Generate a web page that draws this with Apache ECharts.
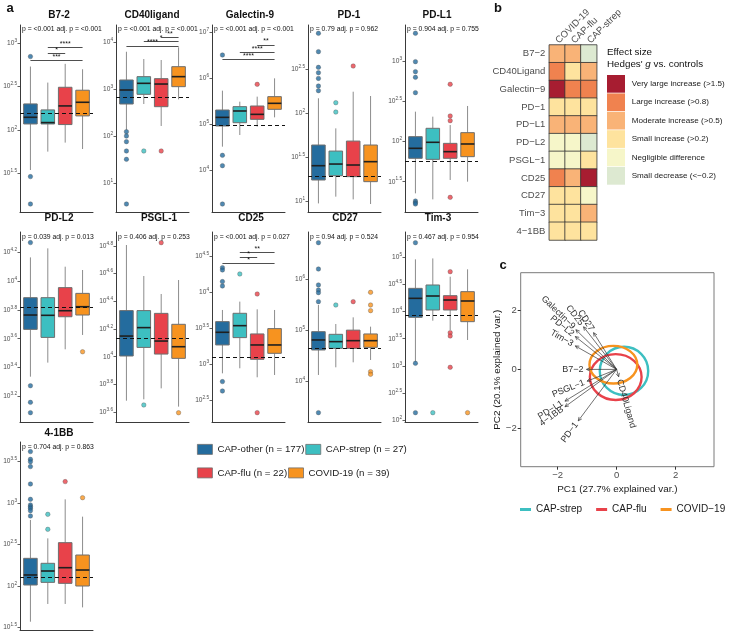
<!DOCTYPE html>
<html><head><meta charset="utf-8">
<script src="https://cdn.jsdelivr.net/npm/echarts@6/dist/echarts.min.js"></script>
<style>html,body{margin:0;padding:0;background:#fff}#c{width:731px;height:633px}</style>
</head><body><div id="c"></div>
<script>
// ---------------- DATA ----------------
const groupNames = ['CAP-other (n = 177)', 'CAP-strep (n = 27)', 'CAP-flu (n = 22)', 'COVID-19 (n = 39)'];
const markerTitles = ['B7-2', 'CD40ligand', 'Galectin-9', 'PD-1', 'PD-L1', 'PD-L2', 'PSGL-1', 'CD25', 'CD27', 'Tim-3', '4-1BB'];
const pValueTexts = [
  'p = <0.001 adj. p = <0.001', 'p = <0.001 adj. p = <0.001', 'p = <0.001 adj. p = <0.001',
  'p = 0.79 adj. p = 0.962', 'p = 0.904 adj. p = 0.755', 'p = 0.039 adj. p = 0.013',
  'p = 0.406 adj. p = 0.253', 'p = <0.001 adj. p = 0.027', 'p = 0.94 adj. p = 0.524',
  'p = 0.467 adj. p = 0.954', 'p = 0.704 adj. p = 0.863'];

// box statistics (log10 units): [lower whisker, Q1, median, Q3, upper whisker] for CAP-other, CAP-strep, CAP-flu, COVID-19
const boxB72 = [[1.538, 2.069, 2.146, 2.30, 2.731], [1.75, 2.069, 2.085, 2.231, 2.546], [1.854, 2.062, 2.277, 2.492, 2.762], [1.78, 2.162, 2.319, 2.458, 2.70]];
const boxCD40L = [[2.135, 2.688, 2.986, 3.199, 3.80], [2.688, 2.894, 3.128, 3.27, 3.645], [2.22, 2.631, 3.113, 3.227, 3.624], [2.787, 3.057, 3.27, 3.482, 3.894]];
const boxGal9 = [[4.52, 4.968, 5.156, 5.315, 5.735], [4.773, 5.04, 5.294, 5.388, 5.496], [4.954, 5.113, 5.221, 5.402, 5.605], [5.156, 5.33, 5.46, 5.605, 6.002]];
const boxPD1 = [[0.971, 1.238, 1.401, 1.637, 2.17], [1.048, 1.287, 1.42, 1.568, 1.827], [1.017, 1.276, 1.409, 1.682, 2.245], [0.964, 1.219, 1.447, 1.637, 2.196]];
const boxPDL1 = [[1.354, 1.792, 1.917, 2.0625, 2.375], [1.279, 1.779, 1.992, 2.167, 2.3125], [1.521, 1.792, 1.875, 1.979, 2.208], [1.5, 1.8125, 1.971, 2.1125, 2.446]];
const boxPDL2 = [[3.335, 3.665, 3.765, 3.886, 4.167], [3.433, 3.609, 3.763, 3.886, 4.23], [3.526, 3.753, 3.795, 3.956, 4.102], [3.626, 3.765, 3.823, 3.916, 4.079]];
const boxPSGL1 = [[3.682, 4.005, 4.149, 4.333, 4.807], [3.692, 4.067, 4.21, 4.333, 4.583], [3.771, 4.019, 4.113, 4.313, 4.453], [3.639, 3.988, 4.072, 4.234, 4.554]];
const boxCD25 = [[2.87, 3.264, 3.44, 3.588, 3.75], [2.94, 3.366, 3.532, 3.704, 3.866], [2.815, 3.065, 3.264, 3.417, 3.759], [2.847, 3.148, 3.264, 3.491, 3.75]];
const boxCD27 = [[4.118, 4.61, 4.807, 4.97, 5.495], [4.269, 4.643, 4.774, 4.918, 5.121], [4.367, 4.643, 4.793, 5.0, 5.252], [4.413, 4.662, 4.793, 4.925, 5.069]];
const boxTim3 = [[3.076, 3.894, 4.244, 4.428, 4.963], [3.832, 4.029, 4.287, 4.49, 4.98], [3.66, 4.029, 4.213, 4.293, 4.643], [3.476, 3.814, 4.195, 4.367, 4.779]];
const box41BB = [[1.568, 2.011, 2.132, 2.333, 2.796], [1.782, 2.043, 2.18, 2.273, 2.574], [1.782, 2.031, 2.22, 2.522, 3.045], [1.741, 1.999, 2.192, 2.373, 2.836]];

// outliers (log10 units) per group
const outB72 = [[2.846, 1.462, 1.146], [], [], []];
const outCD40L = [[2.10, 2.007, 1.887, 1.688, 1.511, 0.56], [1.688], [1.688], []];
const outGal9 = [[6.508, 4.332, 4.108, 3.276], [], [5.872], []];
const outPD1 = [[2.911, 2.702, 2.523, 2.462, 2.397, 2.31, 2.257], [2.12, 2.013], [2.538], []];
const outPDL1 = [[3.354, 3.0, 2.875, 2.804, 2.6125, 1.258, 1.2375, 1.221], [], [2.717, 2.321, 2.2625, 1.304], []];
const outPDL2 = [[4.27, 3.272, 3.156, 3.084], [], [], [3.509]];
const outPSGL1 = [[], [3.651], [4.824], [3.595]];
const outCD25 = [[4.338, 4.306, 4.144, 4.083, 2.755, 2.625], [4.25], [3.972, 2.324], []];
const outCD27 = [[6.721, 6.203, 5.889, 5.79, 5.738, 5.561, 3.377], [5.495], [5.561], [5.744, 5.495, 5.384, 4.184, 4.131]];
const outTim3 = [[5.27, 3.046, 2.136], [2.136], [4.736, 3.611, 3.55, 2.972], [2.136]];
const out41BB = [[3.621, 3.528, 3.5, 3.44, 3.23, 3.045, 2.977, 2.957, 2.937, 2.908, 2.844], [2.864, 2.683], [3.259], [3.065]];

// control medians (dashed line), log10 units
const controlMedians = [2.192, 2.837, 4.983, 1.276, 1.7625, 3.819, 4.133, 3.088, 4.643, 3.937, 2.112];

// significance brackets: [group from, group to, height (log10), stars]
const sigB72 = [[2, 4, 2.95, '****'], [2, 3, 2.885, '*'], [1, 4, 2.804, '***']];
const sigCD40L = [[3, 4, 4.106, '**'], [2, 4, 4.014, '*'], [1, 4, 3.922, '****']];
const sigGal9 = [[3, 4, 6.725, '**'], [2, 4, 6.566, '****'], [1, 4, 6.414, '****']];
const sigCD25 = [[2, 4, 4.546, '**'], [2, 3, 4.481, '*'], [1, 4, 4.398, '*']];

// y tick values (log10 exponents) and axis extents
const ticksB72 = [1.5, 2, 2.5, 3];
const ticksCD40L = [1, 2, 3, 4];
const ticksGal9 = [4, 5, 6, 7];
const ticksPD1 = [1, 1.5, 2, 2.5];
const ticksPDL1 = [1.5, 2, 2.5, 3];
const ticksPDL2 = [3.2, 3.4, 3.6, 3.8, 4, 4.2];
const ticksPSGL1 = [3.6, 3.8, 4, 4.2, 4.4, 4.6, 4.8];
const ticksCD25 = [2.5, 3, 3.5, 4, 4.5];
const ticksCD27 = [4, 5, 6];
const ticksTim3 = [2, 2.5, 3, 3.5, 4, 4.5, 5];
const ticks41BB = [1.5, 2, 2.5, 3, 3.5];
const yExtents = [[1.054, 3.21], [0.39, 4.369], [3.103, 7.159], [0.873, 3.006], [1.121, 3.458],
  [3.019, 4.344], [3.528, 4.901], [2.194, 4.833], [3.193, 6.931], [1.964, 5.467], [1.468, 3.737]];

// heatmap (panel b)
const effectCols = ['COVID-19', 'CAP-flu', 'CAP-strep'];
const effectRows = ['B7\u22122', 'CD40Ligand', 'Galectin\u22129', 'PD\u22121', 'PD\u2212L1', 'PD\u2212L2', 'PSGL\u22121', 'CD25', 'CD27', 'Tim\u22123', '4\u22121BB'];
const effectLabels = ['Small decrease (<\u22120.2)', 'Negligible difference', 'Small increase (>0.2)', 'Moderate increase (>0.5)', 'Large increase (>0.8)', 'Very large increase (>1.5)'];
// category per row for [COVID-19, CAP-flu, CAP-strep]: 0 small decrease .. 5 very large increase
const effectCategories = [[3, 3, 0], [4, 2, 3], [5, 4, 4], [2, 2, 2], [3, 3, 3], [1, 1, 0], [1, 1, 2], [4, 3, 5], [2, 2, 1], [2, 2, 3], [2, 2, 2]];

// PCA (panel c)
const loadingNames = ['CD27', 'CD25', 'Galectin\u22129', 'PD\u2212L2', 'Tim\u22123', 'B7\u22122', 'PSGL\u22121', 'PD\u2212L1', '4\u22121BB', 'PD\u22121', 'CD40Ligand'];
const loadingPC1 = [-0.78, -1.12, -1.38, -1.40, -1.40, -1.02, -1.0, -1.75, -1.75, -1.30, 0.07];
const loadingPC2 = [1.25, 1.45, 1.35, 1.12, 0.80, 0.0, -0.40, -1.08, -1.27, -1.75, -0.25];
const ellipseNames = ['CAP-strep', 'CAP-flu', 'COVID\u221219'];
// [center PC1, center PC2, radius PC1, radius PC2]
const ellipseStrep = [0.25, -0.05, 0.82, 0.82];
const ellipseFlu = [-0.03, -0.26, 0.876, 0.78];
const ellipseCovid = [-0.11, 0.16, 0.81, 0.64];

// ---------------- STYLE / LAYOUT ----------------
const FONT = "'Liberation Sans', Arial, Helvetica, sans-serif";
const groupColors = ['#246c9e', '#3dbfc1', '#e8424a', '#f7931f'];
const effectColors = ['#dde9d1', '#f6f6c9', '#fee39e', '#f9b377', '#f0824f', '#a71d31'];
const ellipseColors = ['#3dbfc1', '#e8424a', '#f7931f'];

const panelBoxes = [boxB72, boxCD40L, boxGal9, boxPD1, boxPDL1, boxPDL2, boxPSGL1, boxCD25, boxCD27, boxTim3, box41BB];
const panelOutliers = [outB72, outCD40L, outGal9, outPD1, outPDL1, outPDL2, outPSGL1, outCD25, outCD27, outTim3, out41BB];
const panelSigs = [sigB72, sigCD40L, sigGal9, [], [], [], [], sigCD25, [], [], []];
const panelTicks = [ticksB72, ticksCD40L, ticksGal9, ticksPD1, ticksPDL1, ticksPDL2, ticksPSGL1, ticksCD25, ticksCD27, ticksTim3, ticks41BB];

const colLeft = [20, 116, 212, 308, 405];
const rowTop = [25, 232, 442];
const rowH = [187, 190, 188];
const plotW = 73;
const titleX = [59, 152, 250, 349, 437, 59, 159, 251, 345, 438, 59];
const titleY = [15, 218, 433];
const pY = [29, 237, 447];

const grids = [], xAxes = [], yAxes = [], series = [], graphics = [];

function expFmt(v) { const r = Math.round(v * 10) / 10; return '{b|10}{e|' + r + '}'; }
const expRich = {
  b: { fontSize: 6.6, color: '#4d4d4d', lineHeight: 10, fontFamily: FONT },
  e: { fontSize: 4.7, color: '#4d4d4d', lineHeight: 5, verticalAlign: 'top', fontFamily: FONT }
};

function boxRender(params, api) {
  const x = api.value(0);
  const lo = api.coord([x, api.value(1)]);
  const q1 = api.coord([x, api.value(2)]);
  const md = api.coord([x, api.value(3)]);
  const q3 = api.coord([x, api.value(4)]);
  const hi = api.coord([x, api.value(5)]);
  const w = api.size([0.78, 0])[0];
  const cx = q1[0];
  return {
    type: 'group', children: [
      { type: 'line', shape: { x1: cx, y1: lo[1], x2: cx, y2: q1[1] }, style: { stroke: '#8c8c8c', lineWidth: 1 } },
      { type: 'line', shape: { x1: cx, y1: q3[1], x2: cx, y2: hi[1] }, style: { stroke: '#8c8c8c', lineWidth: 1 } },
      { type: 'rect', shape: { x: cx - w / 2, y: q3[1], width: w, height: q1[1] - q3[1] }, style: { fill: api.visual('color'), stroke: '#6e6e6e', lineWidth: 1 } },
      { type: 'line', shape: { x1: cx - w / 2, y1: md[1], x2: cx + w / 2, y2: md[1] }, style: { stroke: '#1f1f1f', lineWidth: 1.6 } }
    ]
  };
}

function addText(x, y, text, font, extra) {
  graphics.push({ type: 'text', x: x, y: y, silent: true, z: 100,
    style: Object.assign({ text: text, font: font, fill: '#111', align: 'left', verticalAlign: 'middle' }, extra || {}) });
}

// ---------- panel a ----------
for (let i = 0; i < 11; i++) {
  const row = Math.floor(i / 5), col = i % 5;
  grids.push({ left: colLeft[col], top: rowTop[row], width: plotW, height: rowH[row] });
  xAxes.push({ gridIndex: i, type: 'value', min: 0.4, max: 4.6,
    axisLine: { show: true, onZero: false, lineStyle: { color: '#3a3a3a', width: 1 } },
    axisTick: { show: false }, axisLabel: { show: false }, splitLine: { show: false } });
  yAxes.push({ gridIndex: i, type: 'value', min: yExtents[i][0], max: yExtents[i][1],
    axisLine: { show: true, onZero: false, lineStyle: { color: '#3a3a3a', width: 1 } },
    axisTick: { show: true, length: 2.5, customValues: panelTicks[i], lineStyle: { color: '#3a3a3a', width: 0.8 } },
    axisLabel: { show: true, customValues: panelTicks[i], formatter: expFmt, margin: 3, rich: expRich },
    splitLine: { show: false } });
  const box = panelBoxes[i];
  for (let g = 0; g < 4; g++) {
    series.push({ type: 'custom', name: groupNames[g], xAxisIndex: i, yAxisIndex: i,
      itemStyle: { color: groupColors[g] }, renderItem: boxRender, silent: true, z: 2,
      data: [[g + 1].concat(box[g])] });
  }
  const pts = [];
  panelOutliers[i].forEach(function (arr, g) {
    arr.forEach(function (v) { pts.push({ value: [g + 1, v], itemStyle: { color: groupColors[g] } }); });
  });
  const ml = [{ yAxis: controlMedians[i], lineStyle: { type: [4, 3], color: '#111', width: 1.2 }, label: { show: false } }];
  panelSigs[i].forEach(function (s) {
    ml.push([
      { coord: [s[0], s[2]], lineStyle: { type: 'solid', color: '#222', width: 0.8 },
        label: { show: true, formatter: s[3], position: 'middle', fontSize: 7, color: '#111', distance: 0 } },
      { coord: [s[1], s[2]] }
    ]);
  });
  series.push({ type: 'scatter', name: 'outliers' + i, xAxisIndex: i, yAxisIndex: i, data: pts,
    symbolSize: 4.5, itemStyle: { borderColor: '#444', borderWidth: 0.4 }, z: 3, silent: true,
    markLine: { silent: true, animation: false, symbol: ['none', 'none'], data: ml } });
  addText(titleX[i], titleY[row], markerTitles[i], 'bold 10px ' + FONT, { align: 'center' });
  addText(colLeft[col] + 2, pY[row], pValueTexts[i], '6.8px ' + FONT, { fill: '#111' });
}

// ---------- panel b (heatmap) ----------
grids.push({ left: 549.3, top: 45, width: 47.4, height: 195 });
xAxes.push({ gridIndex: 11, type: 'category', data: effectCols, position: 'top',
  axisLine: { show: false }, axisTick: { show: false }, splitLine: { show: false },
  axisLabel: { rotate: -45, interval: 0, fontSize: 9.5, color: '#4d4d4d', margin: 3 } });
yAxes.push({ gridIndex: 11, type: 'category', data: effectRows, inverse: true,
  axisLine: { show: false }, axisTick: { show: false }, splitLine: { show: false },
  axisLabel: { interval: 0, fontSize: 9.5, color: '#4d4d4d', margin: 4 } });
const heatData = [];
effectCategories.forEach(function (r, ri) { r.forEach(function (c, ci) { heatData.push([ci, ri, c]); }); });
const heatIndex = series.length;
series.push({ type: 'heatmap', xAxisIndex: 11, yAxisIndex: 11, data: heatData, silent: true,
  itemStyle: { borderColor: '#333', borderWidth: 0.8 } });

// ---------- panel c (PCA) ----------
grids.push({ left: 520.7, top: 272.7, width: 193.3, height: 194, show: true, borderColor: '#7a7a7a', borderWidth: 1, backgroundColor: 'rgba(0,0,0,0)' });
const minusFmt = function (v) { return v < 0 ? '\u2212' + (-v) : String(v); };
xAxes.push({ gridIndex: 12, type: 'value', min: -3.25, max: 3.3,
  name: 'PC1 (27.7% explained var.)', nameLocation: 'middle', nameGap: 18,
  nameTextStyle: { fontSize: 9.9, color: '#1a1a1a' },
  axisLine: { show: false, onZero: false },
  axisTick: { show: true, length: 3, customValues: [-2, 0, 2], lineStyle: { color: '#333' } },
  axisLabel: { customValues: [-2, 0, 2], formatter: minusFmt, fontSize: 9.5, color: '#4d4d4d', margin: 4 },
  splitLine: { show: false } });
yAxes.push({ gridIndex: 12, type: 'value', min: -3.31, max: 3.29,
  name: 'PC2 (20.1% explained var.)', nameLocation: 'middle', nameGap: 15,
  nameTextStyle: { fontSize: 9.9, color: '#1a1a1a' },
  axisLine: { show: false, onZero: false },
  axisTick: { show: true, length: 3, customValues: [-2, 0, 2], lineStyle: { color: '#333' } },
  axisLabel: { customValues: [-2, 0, 2], formatter: minusFmt, fontSize: 9.5, color: '#4d4d4d', margin: 4 },
  splitLine: { show: false } });

function ellipseRender(params, api) {
  const c = api.coord([api.value(0), api.value(1)]);
  const s = api.size([api.value(2), api.value(3)]);
  return { type: 'ellipse', shape: { cx: c[0], cy: c[1], rx: s[0], ry: s[1] },
    style: { stroke: api.visual('color'), lineWidth: 2.4, fill: 'none' } };
}
[ellipseStrep, ellipseFlu, ellipseCovid].forEach(function (e, k) {
  series.push({ type: 'custom', name: ellipseNames[k], xAxisIndex: 12, yAxisIndex: 12,
    itemStyle: { color: ellipseColors[k] }, renderItem: ellipseRender, silent: true, z: 2, data: [e] });
});

function arrowRender(params, api) {
  const vx = api.value(0), vy = api.value(1);
  const o = api.coord([0, 0]);
  const t = api.coord([vx, vy]);
  const ang = Math.atan2(t[1] - o[1], t[0] - o[0]);
  const L = 4, a = Math.PI / 7;
  const p1 = [t[0] - L * Math.cos(ang - a), t[1] - L * Math.sin(ang - a)];
  const p2 = [t[0] - L * Math.cos(ang + a), t[1] - L * Math.sin(ang + a)];
  const rot = Math.atan(vy / vx);
  const sgn = vx < 0 ? -1 : 1;
  return { type: 'group', children: [
    { type: 'line', shape: { x1: o[0], y1: o[1], x2: t[0], y2: t[1] }, style: { stroke: '#333', lineWidth: 0.7 } },
    { type: 'polyline', shape: { points: [p1, t, p2] }, style: { stroke: '#333', lineWidth: 0.7, fill: null } },
    { type: 'text', x: t[0], y: t[1], rotation: rot,
      style: { text: loadingNames[params.dataIndex], x: sgn * 3, y: 0, align: vx < 0 ? 'right' : 'left',
        verticalAlign: 'middle', font: '9px ' + FONT, fill: '#333' } }
  ] };
}
series.push({ type: 'custom', name: 'loadings', xAxisIndex: 12, yAxisIndex: 12, renderItem: arrowRender, silent: true, z: 4,
  data: loadingPC1.map(function (x, k) { return [x, loadingPC2[k]]; }) });

// ---------- texts ----------
addText(10, 8, 'a', 'bold 13px ' + FONT, { align: 'center' });
addText(498, 8.5, 'b', 'bold 13px ' + FONT, { align: 'center' });
addText(503, 265.5, 'c', 'bold 13px ' + FONT, { align: 'center' });
addText(607, 52, 'Effect size', '9.8px ' + FONT);
addText(607, 64.5, "Hedges' {i|g} vs. controls", '9.8px ' + FONT, { rich: { i: { fontStyle: 'italic', fontSize: 9.8, fontFamily: FONT } } });

const option = {
  animation: false,
  textStyle: { fontFamily: FONT },
  grid: grids, xAxis: xAxes, yAxis: yAxes, series: series,
  legend: [
    { data: [groupNames[0], groupNames[1]], left: 192, top: 439, orient: 'horizontal', icon: 'rect',
      itemWidth: 15, itemHeight: 10, itemGap: 1, selectedMode: false,
      itemStyle: { borderColor: '#6e6e6e', borderWidth: 0.8 },
      textStyle: { fontSize: 9.7, color: '#1a1a1a', width: 86 } },
    { data: [groupNames[2], groupNames[3]], left: 192, top: 462.5, orient: 'horizontal', icon: 'rect',
      itemWidth: 15, itemHeight: 10, itemGap: 1, selectedMode: false,
      itemStyle: { borderColor: '#6e6e6e', borderWidth: 0.8 },
      textStyle: { fontSize: 9.7, color: '#1a1a1a', width: 86 } },
    { data: ellipseNames, left: 515, top: 499.5, orient: 'horizontal', icon: 'rect',
      itemWidth: 11, itemHeight: 3, itemGap: 14, selectedMode: false,
      textStyle: { fontSize: 10, color: '#1a1a1a' } }
  ],
  visualMap: [{
    type: 'piecewise', seriesIndex: heatIndex, dimension: 2, orient: 'vertical', align: 'left',
    left: 607, top: 75, padding: 0, itemWidth: 18, itemHeight: 17.7, itemGap: 0.7, itemSymbol: 'rect',
    textGap: 6.7, textStyle: { fontSize: 8.1, color: '#1a1a1a' }, selectedMode: false,
    pieces: effectLabels.map(function (l, k) { return { value: k, label: l, color: effectColors[k] }; })
  }],
  graphic: { elements: graphics }
};
const chart = echarts.init(document.getElementById('c'), null, { renderer: 'canvas' });
chart.setOption(option);
</script></body></html>
